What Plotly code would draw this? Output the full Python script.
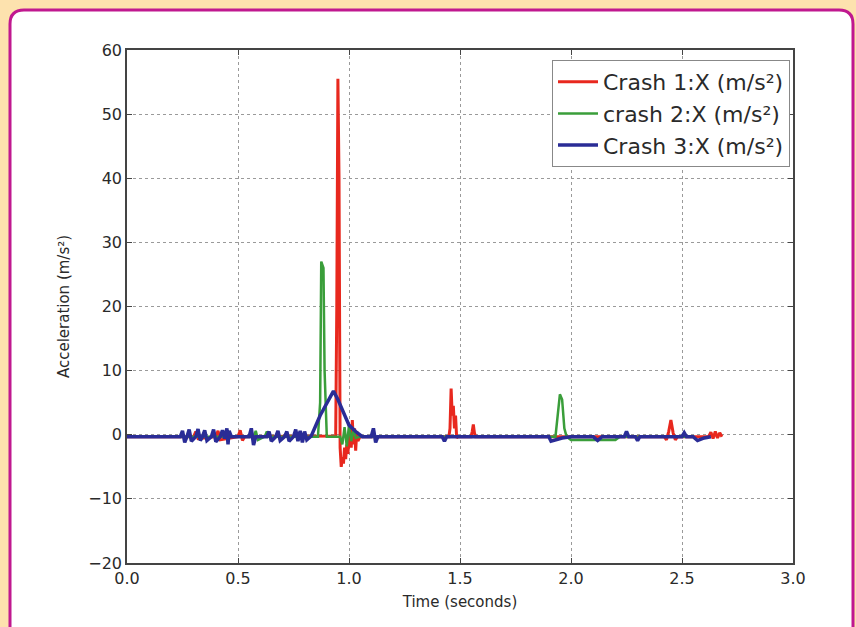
import plotly.graph_objects as go

# ---- data ----
crash1_t = [0.00, 0.30, 0.31, 0.32, 0.40, 0.41, 0.42, 0.50, 0.51, 0.52, 0.53, 0.84, 0.94, 0.945, 0.95, 0.955,
            0.96, 0.965, 0.97, 0.975, 0.98, 0.985, 0.99, 0.995, 1.00, 1.005, 1.01, 1.015, 1.02, 1.025, 1.03,
            1.035, 1.04, 1.05, 1.45, 1.455, 1.46, 1.465, 1.47, 1.475, 1.48, 1.485, 1.49, 1.55, 1.555, 1.56,
            1.565, 1.57, 2.42, 2.43, 2.44, 2.45, 2.46, 2.47, 2.48, 2.62, 2.63, 2.64, 2.65, 2.66, 2.67, 2.68]
crash1_v = [-0.3, -0.3, 0.5, -0.6, -0.3, 0.6, -0.8, -0.3, 0.7, -0.9, -0.3, -0.3, -0.2, 20.0, 55.5, 40.0,
            -2.0, -5.0, -3.5, -4.5, -2.0, -3.8, -1.5, -3.0, -1.0, 1.5, -2.0, 2.3, -1.5, 1.0, -2.5,
            0.5, -1.0, -0.3, -0.3, 1.0, 7.2, 3.0, 4.5, 1.0, 3.0, -0.5, -0.3, -0.3, 0.5, 1.6,
            0.3, -0.3, -0.3, -0.8, 0.5, 2.3, 0.3, -0.8, -0.3, -0.3, 0.4, -0.6, 0.5, -0.5, 0.3, -0.3]

crash2_t = [0.00, 0.57, 0.58, 0.59, 0.62, 0.63, 0.64, 0.86, 0.87, 0.875, 0.885, 0.89, 0.90, 0.96, 0.97,
            0.98, 0.99, 1.00, 1.01, 1.02, 1.03, 1.05, 1.93, 1.94, 1.95, 1.96, 1.97, 1.98, 2.00, 2.20,
            2.22, 2.55]
crash2_v = [-0.3, -0.3, 0.6, -0.8, -0.3, 0.5, -0.3, -0.3, 5.0, 27.0, 26.0, 10.0, -0.3, -0.3, -1.5,
            1.2, -1.8, 1.5, -1.0, 0.8, -0.5, -0.3, -0.3, 3.0, 6.3, 5.5, 1.0, -0.3, -0.8, -0.8,
            -0.3, -0.3]

crash3_t = [0.00, 0.24, 0.25, 0.26, 0.27, 0.28, 0.29, 0.31, 0.32, 0.33, 0.34, 0.35, 0.36, 0.38, 0.39,
            0.40, 0.42, 0.43, 0.44, 0.45, 0.455, 0.46, 0.47, 0.55, 0.56, 0.57, 0.58, 0.63, 0.64, 0.65,
            0.67, 0.68, 0.69, 0.71, 0.72, 0.73, 0.75, 0.76, 0.77, 0.78, 0.79, 0.80, 0.81, 0.83, 0.87,
            0.90, 0.93, 0.95, 0.98, 1.00, 1.03, 1.06, 1.10, 1.11, 1.12, 1.13, 1.42, 1.43, 1.44, 1.90,
            1.91, 1.93, 1.96, 2.00, 2.10, 2.12, 2.14, 2.24, 2.25, 2.26, 2.29, 2.30, 2.31, 2.50, 2.51,
            2.52, 2.55, 2.57, 2.60, 2.63]
crash3_v = [-0.3, -0.3, 0.6, -1.2, -0.3, 0.8, -1.0, -0.3, 0.9, -0.9, -0.3, 0.7, -0.9, -0.3, 0.8,
            -1.1, -0.3, 0.7, -0.6, 1.0, -1.5, 0.6, -0.3, -0.3, 1.0, -1.6, -0.3, -0.3, 0.5, -1.0,
            -0.3, 0.6, -0.9, -0.3, 0.5, -1.0, -0.3, 0.8, -1.0, 0.6, -1.2, 0.5, -0.8, -0.2, 3.0,
            5.0, 6.8, 5.5, 3.0, 1.5, 0.5, -0.3, -0.3, 1.0, -1.2, -0.3, -0.3, -1.0, -0.3, -0.3,
            -1.0, -0.8, -0.5, -0.3, -0.3, -0.9, -0.3, -0.3, 0.5, -0.3, -0.3, -0.9, -0.3, -0.3, 0.3,
            -0.3, -0.3, -0.9, -0.5, -0.3]

series_names = ["Crash 1:X (m/s²)", "crash 2:X (m/s²)", "Crash 3:X (m/s²)"]
x_ticks = [0.0, 0.5, 1.0, 1.5, 2.0, 2.5, 3.0]
y_ticks = [-20, -10, 0, 10, 20, 30, 40, 50, 60]

# ---- figure ----
W, H = 856, 627
L, R, T, B = 127, 793, 50, 563


def px_x(p):
    return (p - L) / (R - L)


def px_y(p):
    return (B - p) / (B - T)


fig = go.Figure()
fig.add_trace(go.Scatter(x=crash1_t, y=crash1_v, mode="lines", name=series_names[0],
                         line=dict(color="#e8281e", width=3)))
fig.add_trace(go.Scatter(x=crash2_t, y=crash2_v, mode="lines", name=series_names[1],
                         line=dict(color="#3a9e3a", width=2.5)))
fig.add_trace(go.Scatter(x=crash3_t, y=crash3_v, mode="lines", name=series_names[2],
                         line=dict(color="#2a2c96", width=3.5)))

# card with rounded top corners
x0, x1, y0, y1, r = 10, 853, 10, 660, 14
path = (f"M {px_x(x0)},{px_y(y1)} L {px_x(x0)},{px_y(y0 + r)} "
        f"Q {px_x(x0)},{px_y(y0)} {px_x(x0 + r)},{px_y(y0)} "
        f"L {px_x(x1 - r)},{px_y(y0)} Q {px_x(x1)},{px_y(y0)} {px_x(x1)},{px_y(y0 + r)} "
        f"L {px_x(x1)},{px_y(y1)} Z")
fig.add_shape(type="path", path=path, xref="paper", yref="paper", layer="below",
              fillcolor="white", line=dict(color="#c0188f", width=3))

axis_common = dict(showgrid=True, gridcolor="#9a9a9a", griddash="dot", gridwidth=1,
                   showline=True, linecolor="#444444", linewidth=1.5, mirror="ticks",
                   ticks="inside", ticklen=5, tickcolor="#444444", zeroline=False,
                   tickfont=dict(family="DejaVu Sans", size=16, color="#2a2a2a"),
                   automargin=False)

fig.update_layout(
    width=W, height=H,
    margin=dict(l=L, r=W - R, t=T, b=H - B),
    paper_bgcolor="#fde2ae",
    plot_bgcolor="#e9eef1",
    font=dict(family="DejaVu Sans", color="#2a2a2a"),
    xaxis=dict(range=[0, 3], tickvals=x_ticks, tickformat=".1f",
               title=dict(text="Time (seconds)", font=dict(size=15), standoff=10),
               **axis_common),
    yaxis=dict(range=[-20, 60], tickvals=y_ticks,
               title=dict(text="Acceleration (m/s²)", font=dict(size=15), standoff=15),
               **axis_common),
    legend=dict(x=px_x(790), y=px_y(60), xanchor="right", yanchor="top",
                bgcolor="white", bordercolor="#888888", borderwidth=1,
                font=dict(family="DejaVu Sans", size=22, color="#2a2a2a"),
                itemwidth=40, tracegroupgap=0),
    showlegend=True,
)

fig.write_html("out.html", config={"displayModeBar": False},
               post_script="document.body.style.margin='0';document.body.style.background='#fde2ae';")
